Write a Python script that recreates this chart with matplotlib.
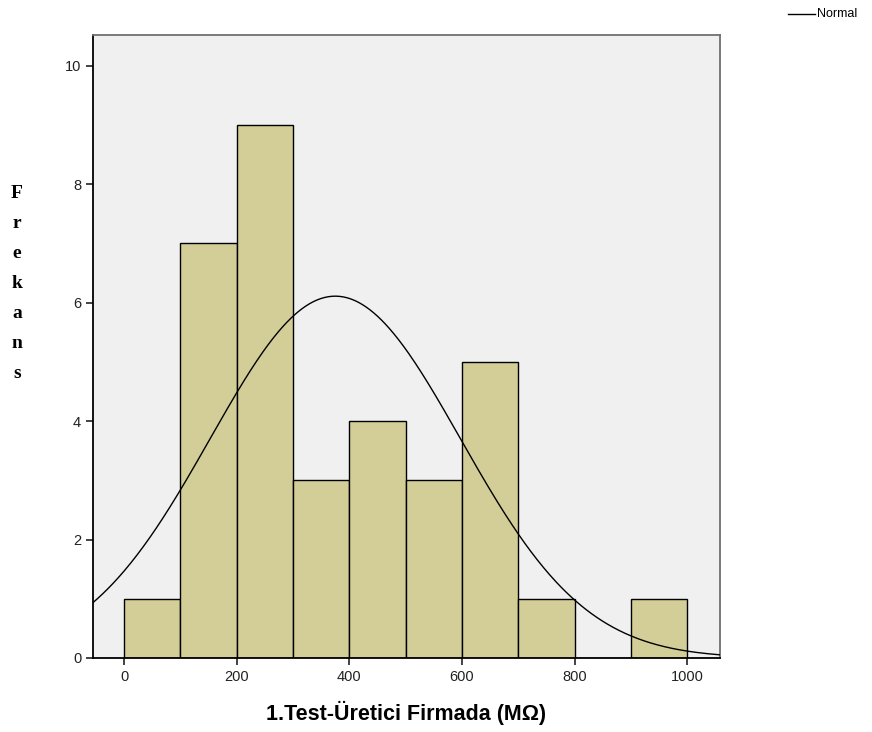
import numpy as np
import matplotlib
matplotlib.use("Agg")
import matplotlib.pyplot as plt

# histogram bins (MOhm) and counts
bin_edges = [0, 100, 200, 300, 400, 500, 600, 700, 800, 900, 1000]
counts = [1, 7, 9, 3, 4, 3, 5, 1, 0, 1]
x_ticks = [0, 200, 400, 600, 800, 1000]
y_ticks = [0, 2, 4, 6, 8, 10]

# fitted normal curve parameters
mean_val = 375
std_val = 222
n_total = sum(counts)
bin_width = 100

plt.rcParams["font.family"] = ["Liberation Sans", "DejaVu Sans"]

fig = plt.figure(figsize=(8.72, 7.32), dpi=100)
ax = fig.add_axes([0.1067, 0.1011, 0.719, 0.8511])
ax.set_facecolor("#f0f0f0")

lefts = bin_edges[:-1]
ax.bar(lefts, counts, width=bin_width, align="edge", color="#d3ce97",
       edgecolor="black", linewidth=1.0, zorder=2)

xs = np.linspace(-55, 1060, 500)
ys = n_total * bin_width / (std_val * np.sqrt(2 * np.pi)) * np.exp(-0.5 * ((xs - mean_val) / std_val) ** 2)
ax.plot(xs, ys, color="black", linewidth=1.0, zorder=3)

ax.set_xlim(-55, 1058)
ax.set_ylim(0, 10.52)
ax.set_xticks(x_ticks)
ax.set_yticks(y_ticks)
ax.tick_params(direction="out", length=5, width=1.2, labelsize=10.5, colors="#222222")

for side in ["left", "bottom"]:
    ax.spines[side].set_color("black")
    ax.spines[side].set_linewidth(1.3)
for side in ["top", "right"]:
    ax.spines[side].set_color("#707070")
    ax.spines[side].set_linewidth(1.3)

ax.set_xlabel("1.Test-Üretici Firmada (MΩ)", fontsize=15.5, fontweight="bold", labelpad=12)

# vertical letter-stacked y label
fig.text(0.0195, 0.6127, "F\nr\ne\nk\na\nn\ns", ha="center", va="center",
         fontsize=14, fontweight="bold", family="Liberation Serif", linespacing=2.0)

# legend
fig.lines.append(plt.Line2D([788 / 872, 815 / 872], [1 - 14 / 732, 1 - 14 / 732],
                            transform=fig.transFigure, color="black", linewidth=1.0))
fig.text(817 / 872, 1 - 14 / 732, "Normal", ha="left", va="center", fontsize=9)

fig.savefig("out.png", dpi=100)
